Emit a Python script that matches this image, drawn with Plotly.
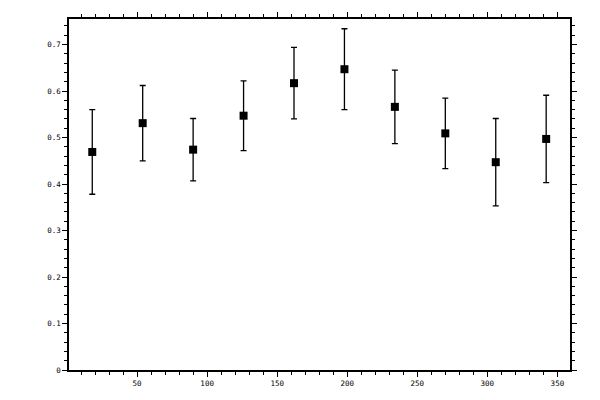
import plotly.graph_objects as go

x_vals = [18, 54, 90, 126, 162, 198, 234, 270, 306, 342]
y_vals = [0.469, 0.531, 0.474, 0.547, 0.617, 0.647, 0.566, 0.509, 0.447, 0.497]
y_err = [0.091, 0.081, 0.067, 0.075, 0.077, 0.087, 0.079, 0.076, 0.094, 0.094]
x_ticks = [50, 100, 150, 200, 250, 300, 350]
y_ticks = [0, 0.1, 0.2, 0.3, 0.4, 0.5, 0.6, 0.7]
y_tick_text = ["0", "0.1", "0.2", "0.3", "0.4", "0.5", "0.6", "0.7"]

fig = go.Figure()
fig.add_trace(go.Scatter(
    x=x_vals, y=y_vals, mode="markers",
    marker=dict(symbol="square", size=8, color="black", line=dict(width=0)),
    error_y=dict(type="data", array=y_err, visible=True, color="black",
                 thickness=1.3, width=3),
    showlegend=False,
))

font = dict(family="DejaVu Sans Mono", size=7.5, color="black")
fig.update_layout(
    width=600, height=400,
    margin=dict(l=61, r=38, t=11, b=38),
    paper_bgcolor="white", plot_bgcolor="white",
    font=font,
    xaxis=dict(range=[1.4, 359], tickvals=x_ticks, showgrid=False, zeroline=False,
               automargin=False,
               showline=True, linecolor="black", linewidth=1.5, mirror="ticks",
               ticks="outside", ticklen=5, tickwidth=1.3, tickcolor="black",
               minor=dict(dtick=10, tick0=0, ticks="outside", ticklen=3,
                          tickwidth=1, tickcolor="black", showgrid=False),
               tickfont=font),
    yaxis=dict(range=[0, 0.755], tickvals=y_ticks, ticktext=y_tick_text,
               showgrid=False, zeroline=False, automargin=False,
               showline=True, linecolor="black", linewidth=1.5, mirror="ticks",
               ticks="outside", ticklen=5, tickwidth=1.3, tickcolor="black",
               minor=dict(dtick=0.02, tick0=0, ticks="outside", ticklen=3,
                          tickwidth=1, tickcolor="black", showgrid=False),
               tickfont=font),
)

fig.write_html("out.html")
